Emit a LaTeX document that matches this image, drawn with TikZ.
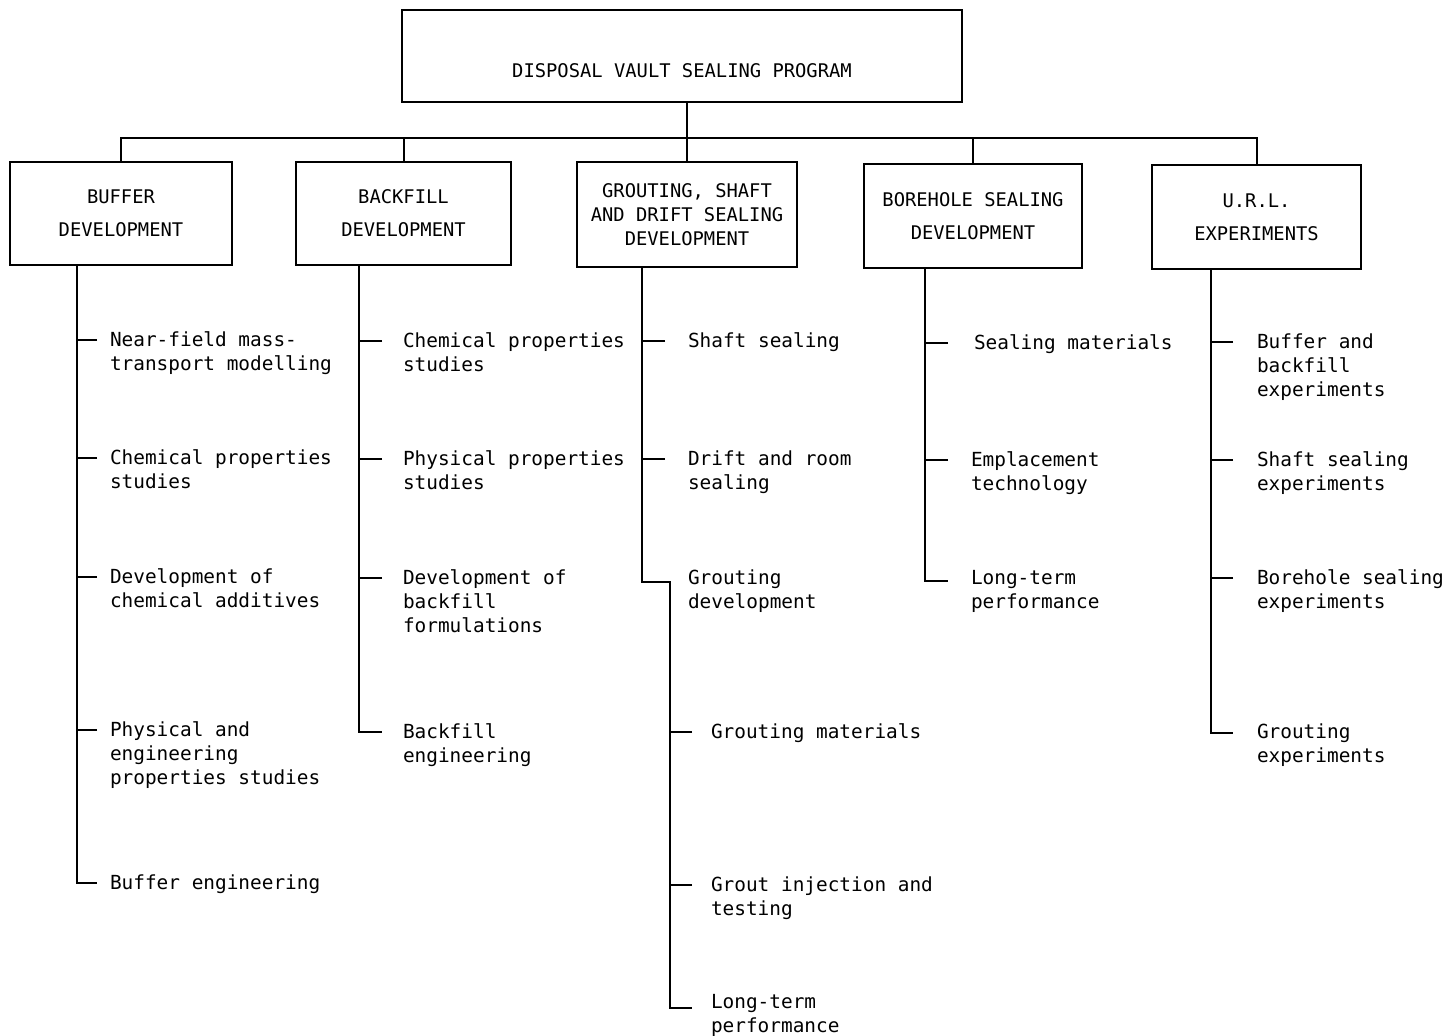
\documentclass[tikz,border=0pt]{standalone}
\usepackage{fontspec}
\newfontfamily\diagmono{DejaVu Sans Mono}
\begin{document}
\begin{tikzpicture}[x=0.5pt,y=-0.5pt,
  every path/.style={line width=1pt},
  boxnode/.style={draw, line width=1.1pt, inner sep=0pt, align=center,
    font=\diagmono\fontsize{9.4}{12}\selectfont},
  itemnode/.style={anchor=north west, inner sep=0pt, align=left,
    font=\diagmono\fontsize{9.7}{12}\selectfont}]
\useasboundingbox (0,0) rectangle (1452,1035);
\fill[white] (0,0) rectangle (1452,1035);

% top box
\node[boxnode, minimum width=280pt, minimum height=46pt, text height=24pt, text depth=3pt]
  (top) at (682,56) {DISPOSAL VAULT SEALING PROGRAM};

% category boxes
\node[boxnode, minimum width=111pt, minimum height=51.5pt] (buf) at (121,213.5)
  {BUFFER\\[4.5pt]DEVELOPMENT};
\node[boxnode, minimum width=107.5pt, minimum height=51.5pt] (bck) at (403.5,213.5)
  {BACKFILL\\[4.5pt]DEVELOPMENT};
\node[boxnode, minimum width=110pt, minimum height=52.5pt] (grt) at (687,214.5)
  {GROUTING, SHAFT\\AND DRIFT SEALING\\DEVELOPMENT};
\node[boxnode, minimum width=109pt, minimum height=52pt] (bor) at (973,216)
  {BOREHOLE SEALING\\[4.5pt]DEVELOPMENT};
\node[boxnode, minimum width=104.5pt, minimum height=52pt] (url) at (1256.5,217)
  {U.R.L.\\[4.5pt]EXPERIMENTS};

% bus
\coordinate (bus) at (687,138);
\draw (top.south -| bus) -- (bus) -- (grt.north);
\draw (buf.north) |- (bus) -| (url.north);
\draw (bck.north) -- (bck.north |- bus);
\draw (bor.north) -- (bor.north |- bus);

% trunk x positions
\coordinate (bx) at (77,0);
\coordinate (kx) at (359,0);
\coordinate (gx) at (642,0);
\coordinate (hx) at (925,0);
\coordinate (ux) at (1211,0);

% Buffer items
\node[itemnode] (b1) at (109,331) {Near-field mass-\\transport modelling};
\node[itemnode] (b2) at (109,449) {Chemical properties\\studies};
\node[itemnode] (b3) at (109,568) {Development of\\chemical additives};
\node[itemnode] (b4) at (109,721) {Physical and\\engineering\\properties studies};
\node[itemnode] (b5) at (109,874) {Buffer engineering};
\draw ([shift={(-12,9)}]b1.north west) -- ++(-20,0);
\draw ([shift={(-12,9)}]b2.north west) -- ++(-20,0);
\draw ([shift={(-12,9)}]b3.north west) -- ++(-20,0);
\draw ([shift={(-12,9)}]b4.north west) -- ++(-20,0);
\draw (buf.south -| bx) |- ([shift={(-12,9)}]b5.north west);

% Backfill items
\node[itemnode] (k1) at (402,332) {Chemical properties\\studies};
\node[itemnode] (k2) at (402,450) {Physical properties\\studies};
\node[itemnode] (k3) at (402,569) {Development of\\backfill\\formulations};
\node[itemnode] (k4) at (402,723) {Backfill\\engineering};
\draw ([shift={(-20,9)}]k1.north west) -- ++(-23,0);
\draw ([shift={(-20,9)}]k2.north west) -- ++(-23,0);
\draw ([shift={(-20,9)}]k3.north west) -- ++(-23,0);
\draw (bck.south -| kx) |- ([shift={(-20,9)}]k4.north west);

% Grouting items
\node[itemnode] (g1) at (687,332) {Shaft sealing};
\node[itemnode] (g2) at (687,450) {Drift and room\\sealing};
\node[itemnode] (g3) at (687,569) {Grouting\\development};
\node[itemnode] (g4) at (710,723) {Grouting materials};
\node[itemnode] (g5) at (710,876) {Grout injection and\\testing};
\node[itemnode] (g6) at (710,993) {Long-term\\performance};
\draw ([shift={(-22,9)}]g1.north west) -- ++(-23,0);
\draw ([shift={(-22,9)}]g2.north west) -- ++(-23,0);
\coordinate (gs) at ([shift={(-17,13)}]g3.north west);
\draw (grt.south -| gx) |- (gs) |- ([shift={(-18,15)}]g6.north west);
\draw ([shift={(-18,9)}]g4.north west) -- ++(-22,0);
\draw ([shift={(-18,9)}]g5.north west) -- ++(-22,0);

% Borehole items
\node[itemnode] (h1) at (973,334) {Sealing materials};
\node[itemnode] (h2) at (970,451) {Emplacement\\technology};
\node[itemnode] (h3) at (970,569) {Long-term\\performance};
\draw ([shift={(-25,9)}]h1.north west) -- ++(-23,0);
\draw ([shift={(-22,9)}]h2.north west) -- ++(-23,0);
\draw (bor.south -| hx) |- ([shift={(-22,12)}]h3.north west);

% URL items
\node[itemnode] (u1) at (1256,333) {Buffer and\\backfill\\experiments};
\node[itemnode] (u2) at (1256,451) {Shaft sealing\\experiments};
\node[itemnode] (u3) at (1256,569) {Borehole sealing\\experiments};
\node[itemnode] (u4) at (1256,723) {Grouting\\experiments};
\draw ([shift={(-23,9)}]u1.north west) -- ++(-22,0);
\draw ([shift={(-23,9)}]u2.north west) -- ++(-22,0);
\draw ([shift={(-23,9)}]u3.north west) -- ++(-22,0);
\draw (url.south -| ux) |- ([shift={(-23,10)}]u4.north west);
\end{tikzpicture}
\end{document}
